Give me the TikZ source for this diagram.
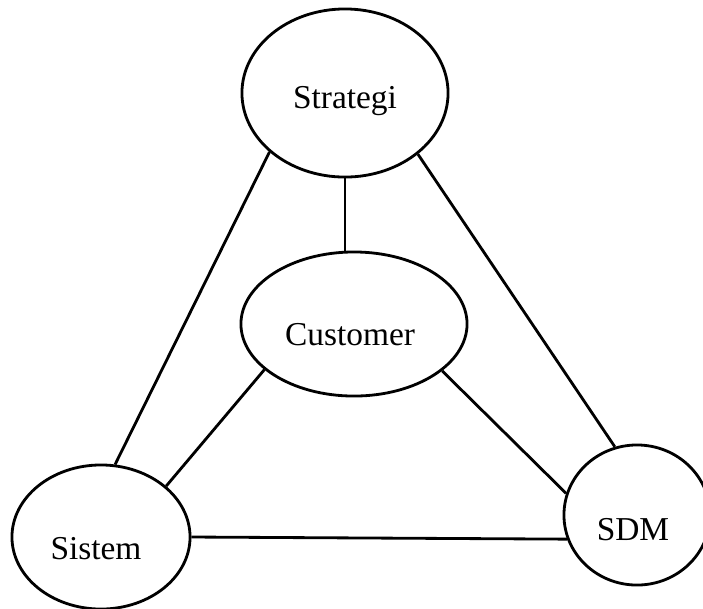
\documentclass[tikz,border=0pt]{standalone}
\usepackage{fontspec}
\setmainfont{Liberation Serif}
\usetikzlibrary{shapes.geometric}

\begin{document}
\begin{tikzpicture}[x=0.01cm, y=-0.01cm,
  bulat/.style={ellipse, draw, line width=0.8pt, inner sep=0pt},
  teks/.style={font=\fontsize{9.5}{11}\selectfont},
  garis/.style={line width=0.8pt}]
\useasboundingbox (0,0) rectangle (703,608);
\node[bulat, minimum width=2.06cm, minimum height=1.68cm,
      label={[teks, yshift=-0.08cm]center:Strategi}] (strategi) at (345,93) {};
\node[bulat, minimum width=2.26cm, minimum height=1.44cm,
      label={[teks, xshift=-0.04cm, yshift=-0.11cm]center:Customer}] (customer) at (354,324) {};
\node[bulat, minimum width=1.78cm, minimum height=1.44cm,
      label={[teks, xshift=-0.05cm, yshift=-0.12cm]center:Sistem}] (sistem) at (101,537) {};
\node[bulat, minimum width=1.46cm, minimum height=1.40cm,
      label={[teks, xshift=-0.04cm, yshift=-0.15cm]center:SDM}] (sdm) at (637,515) {};
\draw[garis] (strategi.south) -- (strategi.south |- customer.north);
\draw[garis] (strategi.218) -- (sistem.79);
\draw[garis] (strategi.320) -- (sdm.108);
\draw[garis] (customer.207) -- (sistem.38);
\draw[garis] (customer.332) -- (sdm.163);
\draw[garis] (sistem.0) -- (sdm.199);
\end{tikzpicture}
\end{document}
